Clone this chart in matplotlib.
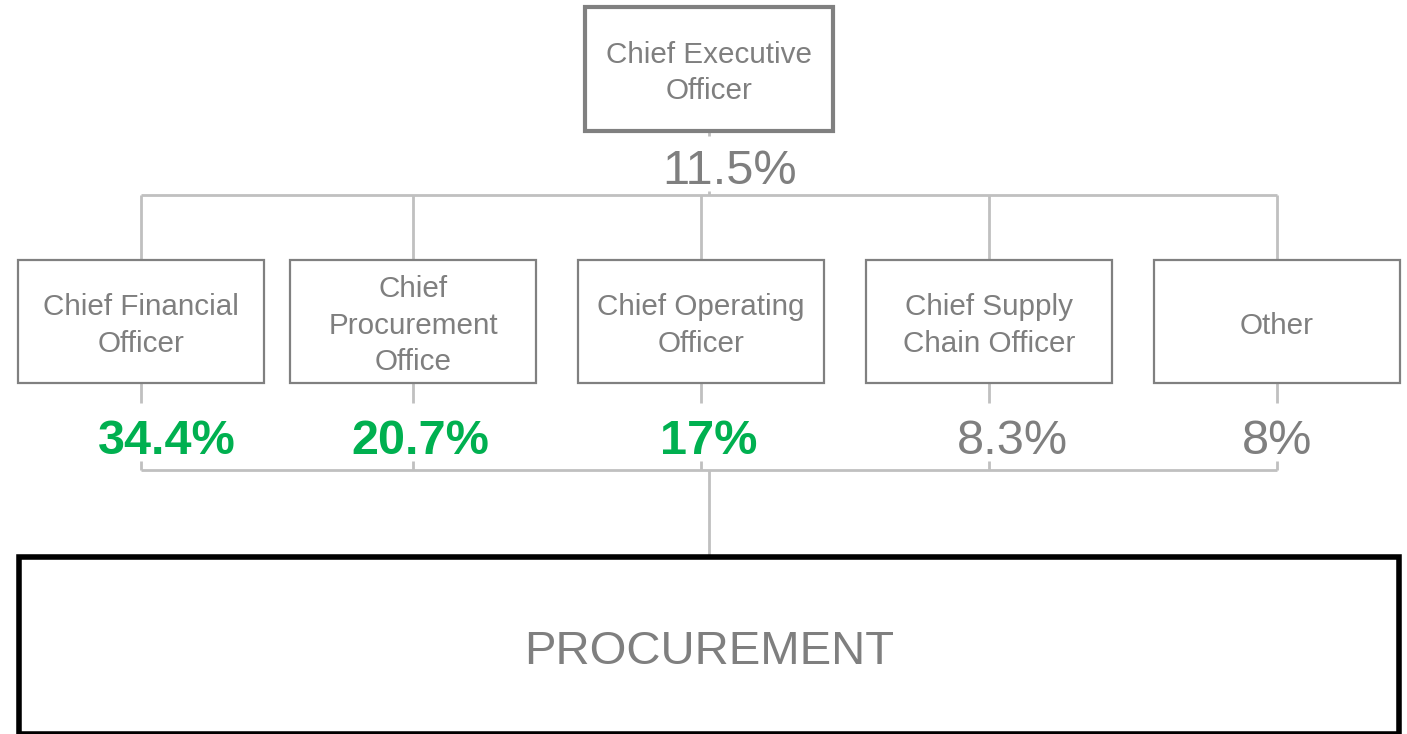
import matplotlib.pyplot as plt
import matplotlib.patches as mpatches

plt.rcParams["font.family"] = ["Liberation Sans", "DejaVu Sans"]

# ── Data ──────────────────────────────────────────────────────────────────
top_role  = "Chief Executive\nOfficer"
top_share = "11.5%"
roles  = ["Chief Financial\nOfficer", "Chief\nProcurement\nOffice",
          "Chief Operating\nOfficer", "Chief Supply\nChain Officer", "Other"]
shares = ["34.4%", "20.7%", "17%", "8.3%", "8%"]
highlight = [True, True, True, False, False]
bottom_label = "PROCUREMENT"

GRAY, LINE, GREEN = "#7f7f7f", "#c0c0c0", "#00b050"

# ── Layout (pixel coords) ─────────────────────────────────────────────────
W, H = 1407, 734
fig = plt.figure(figsize=(W / 100, H / 100), dpi=100)
ax = fig.add_axes([0, 0, 1, 1])
ax.set_xlim(0, W); ax.set_ylim(H, 0); ax.axis("off")

centers = [141, 413, 701, 989, 1277]
text_x  = [167, 420, 709, 1012, 1277]
box_w, box_top, box_bot = 246, 260, 383

def seg(x0, x1, y0, y1):
    ax.plot([x0, x1], [y0, y1], color=LINE, lw=2, zorder=1,
            solid_capstyle="butt")

# connector lines (gaps where the percentage labels sit)
seg(709, 709, 131, 136)
seg(709, 709, 191, 195)
seg(centers[0], centers[-1], 195, 195)
seg(centers[0], centers[-1], 470, 470)
seg(709, 709, 470, 556)
for cx in centers:
    seg(cx, cx, 195, box_top)
    seg(cx, cx, box_bot, 403)
    seg(cx, cx, 461, 470)

# CEO box
ax.add_patch(mpatches.Rectangle((585, 7), 248, 124, fill=False,
                                edgecolor="#808080", lw=3, zorder=3))
ax.text(709, 73, top_role, ha="center", va="center", fontsize=21.3,
        color=GRAY, linespacing=1.4, zorder=4)
ax.text(730, 172, top_share, ha="center", va="center", fontsize=35,
        color=GRAY, zorder=4)

# role boxes + shares
for cx, tx, role, share, hl in zip(centers, text_x, roles, shares, highlight):
    ax.add_patch(mpatches.Rectangle((cx - box_w / 2, box_top), box_w,
                                    box_bot - box_top, fill=False,
                                    edgecolor="#808080", lw=1.6, zorder=3))
    ax.text(cx, (box_top + box_bot) / 2 + 4, role, ha="center", va="center",
            fontsize=21.3, color=GRAY, linespacing=1.38, zorder=4)
    ax.text(tx, 441, share, ha="center", va="center", fontsize=35,
            color=GREEN if hl else GRAY,
            fontweight="bold" if hl else "normal", zorder=4)

# procurement box
ax.add_patch(mpatches.Rectangle((19, 557), 1380, 177, fill=False,
                                edgecolor="black", lw=4, zorder=3))
ax.text(709, 652, bottom_label, ha="center", va="center", fontsize=34,
        color=GRAY, zorder=4)

plt.savefig("out.png", dpi=100)
plt.close()
